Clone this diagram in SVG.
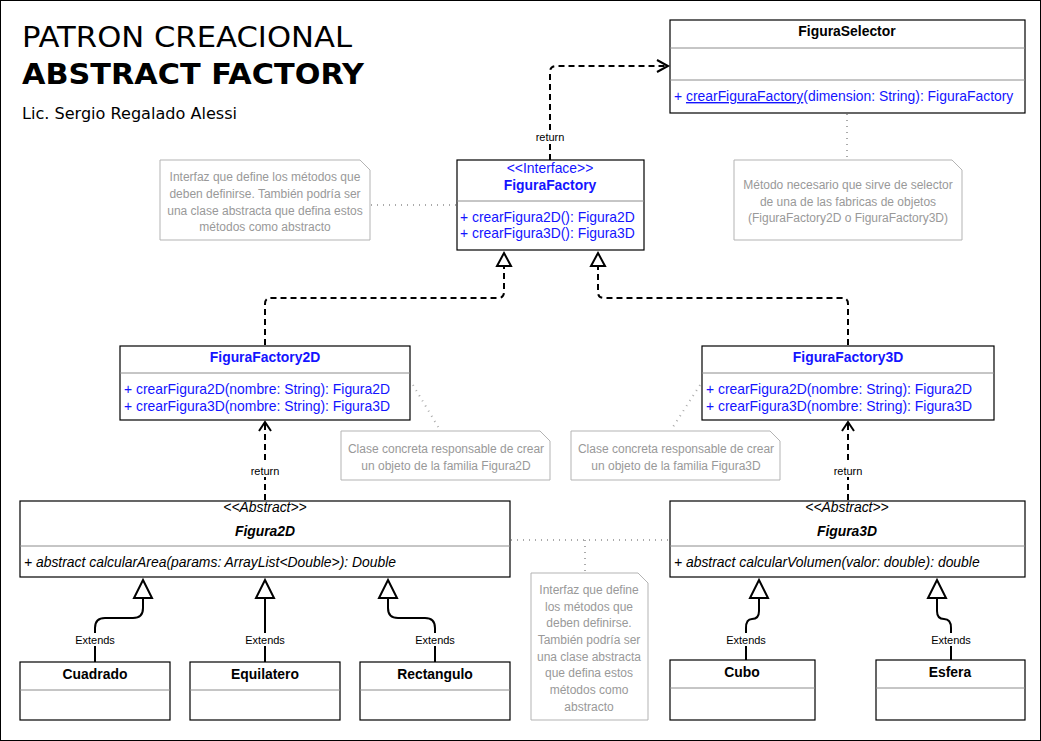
<svg xmlns="http://www.w3.org/2000/svg" width="1041" height="741" viewBox="0 0 1041 741">
<style>
.box{fill:#fff;stroke:#000;stroke-width:1.2}
.div{stroke:#8c8c8c;stroke-width:1}
.t{font-family:"Liberation Sans",Arial,sans-serif;font-size:13.9px}
.b{font-weight:bold}
.c{text-anchor:middle}
.blue{fill:#1414ff}
.k{fill:#000}
.i{font-style:italic}
.note{fill:#fff;stroke:#b3b3b3;stroke-width:1}
.nt{font-family:"Liberation Sans",Arial,sans-serif;font-size:12px;fill:#999;text-anchor:middle}
.dash{fill:none;stroke:#000;stroke-width:2;stroke-dasharray:6 4}
.ext{fill:none;stroke:#000;stroke-width:2}
.dot{fill:none;stroke:#aaa;stroke-width:2;stroke-dasharray:1 5}
.lbl{font-family:"Liberation Sans",Arial,sans-serif;font-size:11px;fill:#000;text-anchor:middle}
.tri{fill:#fff;stroke:#000;stroke-width:2}
.open{fill:none;stroke:#000;stroke-width:2}
</style>
<rect x="0.5" y="0.5" width="1040" height="740" fill="#fff" stroke="#000" stroke-width="1"/>
<g id="title">
<text x="22" y="47" font-family="DejaVu Sans,Verdana,sans-serif" font-size="29" textLength="330" lengthAdjust="spacingAndGlyphs">PATRON CREACIONAL</text>
<text x="22" y="84" font-family="DejaVu Sans,Verdana,sans-serif" font-size="29" font-weight="bold" textLength="342" lengthAdjust="spacingAndGlyphs">ABSTRACT FACTORY</text>
<text x="22" y="119" font-family="DejaVu Sans,Verdana,sans-serif" font-size="16" textLength="215" lengthAdjust="spacingAndGlyphs">Lic. Sergio Regalado Alessi</text>
</g>
<g id="connectors">
<path class="dot" d="M847,114 V160"/>
<path class="dot" d="M371,205 H456"/>
<path class="dot" d="M413,385 L440,430"/>
<path class="dot" d="M700,385 L671,430"/>
<path class="dot" d="M511,540 H669"/>
<path class="dot" d="M585,540 V572"/>
<path class="dash" d="M550,160 V72 Q550,66 556,66 H667"/>
<path class="open" d="M657,60 L668,66 L657,72"/>
<rect x="533" y="130" width="34" height="13" fill="#fff"/>
<text class="lbl" x="550" y="141">return</text>
<path class="dash" d="M265,345 V304 Q265,298 271,298 H498 Q504,298 504,292 V266"/>
<path class="tri" d="M504,253 L511,266 L497,266 Z"/>
<path class="dash" d="M848,345 V304 Q848,298 842,298 H604 Q598,298 598,292 V266"/>
<path class="tri" d="M598,253 L605,266 L591,266 Z"/>
<path class="dash" d="M265,500 V423"/>
<path class="open" d="M259,431 L265,422 L271,431"/>
<rect x="248" y="464" width="34" height="13" fill="#fff"/>
<text class="lbl" x="265" y="475">return</text>
<path class="dash" d="M848,500 V423"/>
<path class="open" d="M842,431 L848,422 L854,431"/>
<rect x="831" y="464" width="34" height="13" fill="#fff"/>
<text class="lbl" x="848" y="475">return</text>
<path class="ext" d="M95,662 V628 Q95,618 105,618 H133 Q143,618 143,608 V598"/>
<path class="tri" d="M143,580 L152,598 L134,598 Z"/>
<rect x="74" y="633" width="42" height="13" fill="#fff"/>
<text class="lbl" x="95" y="644">Extends</text>
<path class="ext" d="M265,662 V598"/>
<path class="tri" d="M265,580 L274,598 L256,598 Z"/>
<rect x="244" y="633" width="42" height="13" fill="#fff"/>
<text class="lbl" x="265" y="644">Extends</text>
<path class="ext" d="M435,662 V628 Q435,618 425,618 H398 Q388,618 388,608 V598"/>
<path class="tri" d="M388,580 L397,598 L379,598 Z"/>
<rect x="414" y="633" width="42" height="13" fill="#fff"/>
<text class="lbl" x="435" y="644">Extends</text>
<path class="ext" d="M746,660 V628 Q746,619 752,619 Q759,619 759,611 V598"/>
<path class="tri" d="M759,580 L768,598 L750,598 Z"/>
<rect x="725" y="633" width="42" height="13" fill="#fff"/>
<text class="lbl" x="746" y="644">Extends</text>
<path class="ext" d="M951,660 V628 Q951,619 944,619 Q937,619 937,611 V598"/>
<path class="tri" d="M937,580 L946,598 L928,598 Z"/>
<rect x="930" y="633" width="42" height="13" fill="#fff"/>
<text class="lbl" x="951" y="644">Extends</text>
</g>
<g id="FiguraSelector">
<rect class="box" x="670" y="20" width="355" height="93"/>
<line class="div" x1="670" y1="48" x2="1025" y2="48"/>
<line class="div" x1="670" y1="80" x2="1025" y2="80"/>
<text class="t b c k" x="847" y="36">FiguraSelector</text>
<text class="t blue" x="674" y="101">+ <tspan text-decoration="underline">crearFiguraFactory</tspan>(dimension: String): FiguraFactory</text>
</g>
<g id="noteSelector">
<path class="note" d="M734,160 H952 L962,170 V240 H734 Z"/>
<text class="nt" x="848" y="189">Método necesario que sirve de selector</text>
<text class="nt" x="848" y="205.5">de una de las fabricas de objetos</text>
<text class="nt" x="848" y="222">(FiguraFactory2D o FiguraFactory3D)</text>
</g>
<g id="noteInterfaz">
<path class="note" d="M160,160 H360 L370,170 V240 H160 Z"/>
<text class="nt" x="265" y="181">Interfaz que define los métodos que</text>
<text class="nt" x="265" y="197.5">deben definirse. También podría ser</text>
<text class="nt" x="265" y="214.5">una clase abstracta que defina estos</text>
<text class="nt" x="265" y="231">métodos como abstracto</text>
</g>
<g id="FiguraFactory">
<rect class="box" x="457" y="160" width="187" height="90"/>
<line class="div" x1="457" y1="201" x2="644" y2="201"/>
<text class="t c blue" x="550" y="172.5">&lt;&lt;Interface&gt;&gt;</text>
<text class="t b c blue" x="550" y="190">FiguraFactory</text>
<text class="t blue" x="460" y="222">+ crearFigura2D(): Figura2D</text>
<text class="t blue" x="460" y="238">+ crearFigura3D(): Figura3D</text>
</g>
<g id="FiguraFactory2D">
<rect class="box" x="120" y="346" width="290" height="74"/>
<line class="div" x1="120" y1="373" x2="410" y2="373"/>
<text class="t b c blue" x="265" y="361.5">FiguraFactory2D</text>
<text class="t blue" x="124" y="393.5">+ crearFigura2D(nombre: String): Figura2D</text>
<text class="t blue" x="124" y="410.5">+ crearFigura3D(nombre: String): Figura3D</text>
</g>
<g id="FiguraFactory3D">
<rect class="box" x="702" y="346" width="292" height="74"/>
<line class="div" x1="702" y1="373" x2="994" y2="373"/>
<text class="t b c blue" x="848" y="361.5">FiguraFactory3D</text>
<text class="t blue" x="706" y="393.5">+ crearFigura2D(nombre: String): Figura2D</text>
<text class="t blue" x="706" y="410.5">+ crearFigura3D(nombre: String): Figura3D</text>
</g>
<g id="note2D">
<path class="note" d="M341,431 H540 L550,441 V480 H341 Z"/>
<text class="nt" x="446" y="453">Clase concreta responsable de crear</text>
<text class="nt" x="446" y="470">un objeto de la familia Figura2D</text>
</g>
<g id="note3D">
<path class="note" d="M571,431 H770 L780,441 V480 H571 Z"/>
<text class="nt" x="676" y="453">Clase concreta responsable de crear</text>
<text class="nt" x="676" y="470">un objeto de la familia Figura3D</text>
</g>
<g id="Figura2D">
<rect class="box" x="20" y="501" width="490" height="76"/>
<line class="div" x1="20" y1="546" x2="510" y2="546"/>
<text class="t i c k" x="265" y="512">&lt;&lt;Abstract&gt;&gt;</text>
<text class="t b i c k" x="265" y="536">Figura2D</text>
<text class="t i k" x="24" y="567">+ abstract calcularArea(params: ArrayList&lt;Double&gt;): Double</text>
</g>
<g id="Figura3D">
<rect class="box" x="670" y="501" width="355" height="76"/>
<line class="div" x1="670" y1="546" x2="1025" y2="546"/>
<text class="t i c k" x="847" y="512">&lt;&lt;Abstract&gt;&gt;</text>
<text class="t b i c k" x="847" y="536">Figura3D</text>
<text class="t i k" x="674" y="567">+ abstract calcularVolumen(valor: double): double</text>
</g>
<g id="noteMiddle">
<path class="note" d="M531,573 H638 L648,583 V720 H531 Z"/>
<text class="nt" x="589" y="594">Interfaz que define</text>
<text class="nt" x="589" y="610.5">los métodos que</text>
<text class="nt" x="589" y="627">deben definirse.</text>
<text class="nt" x="589" y="643.5">También podría ser</text>
<text class="nt" x="589" y="660.5">una clase abstracta</text>
<text class="nt" x="589" y="677">que defina estos</text>
<text class="nt" x="589" y="694">métodos como</text>
<text class="nt" x="589" y="711">abstracto</text>
</g>
<g id="Cuadrado">
<rect class="box" x="20" y="662" width="150" height="58"/>
<line class="div" x1="20" y1="690" x2="170" y2="690"/>
<text class="t b c k" x="95" y="679">Cuadrado</text>
</g>
<g id="Equilatero">
<rect class="box" x="190" y="662" width="150" height="58"/>
<line class="div" x1="190" y1="690" x2="340" y2="690"/>
<text class="t b c k" x="265" y="679">Equilatero</text>
</g>
<g id="Rectangulo">
<rect class="box" x="360" y="662" width="150" height="58"/>
<line class="div" x1="360" y1="690" x2="510" y2="690"/>
<text class="t b c k" x="435" y="679">Rectangulo</text>
</g>
<g id="Cubo">
<rect class="box" x="670" y="660" width="145" height="60"/>
<line class="div" x1="670" y1="688" x2="815" y2="688"/>
<text class="t b c k" x="742" y="677">Cubo</text>
</g>
<g id="Esfera">
<rect class="box" x="876" y="660" width="149" height="60"/>
<line class="div" x1="876" y1="688" x2="1025" y2="688"/>
<text class="t b c k" x="950" y="677">Esfera</text>
</g>
</svg>
